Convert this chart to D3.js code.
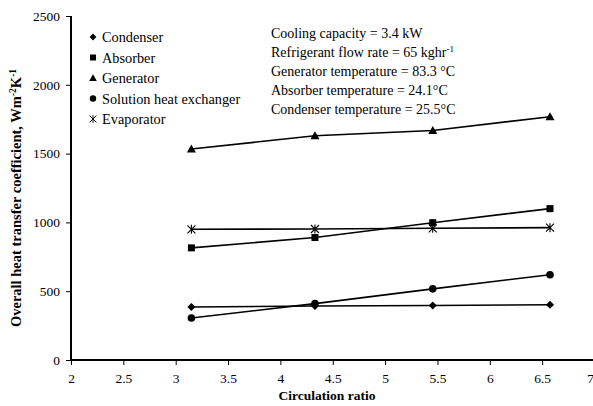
<!DOCTYPE html>
<html>
<head>
<meta charset="utf-8">
<script src="https://cdn.jsdelivr.net/npm/d3@7"></script>
<style>
  html, body { margin: 0; padding: 0; background: #fff; }
  svg { display: block; font-family: "Liberation Serif", "Times New Roman", serif; }
</style>
</head>
<body>
<svg id="chart" width="593" height="406"></svg>
<script>
// Circulation ratio (x) and overall heat transfer coefficient (W m^-2 K^-1) per component
const ratios = [3.15, 4.33, 5.455, 6.575];
const condenser = [385, 392, 396, 401];
const absorber = [815, 890, 998, 1100];
const generator = [1533, 1630, 1668, 1768];
const solutionHX = [305, 410, 517, 620];
const evaporator = [950, 952, 957, 962];

const xTicks = [2, 2.5, 3, 3.5, 4, 4.5, 5, 5.5, 6, 6.5, 7];
const yTicks = [0, 500, 1000, 1500, 2000, 2500];

const seriesNames = ["Condenser", "Absorber", "Generator", "Solution heat exchanger", "Evaporator"];
const seriesValues = [condenser, absorber, generator, solutionHX, evaporator];
const seriesMarkers = ["diamond", "square", "triangle", "circle", "star"];

const notes = [
  {text: "Cooling capacity = 3.4 kW"},
  {text: "Refrigerant flow rate = 65 kghr", sup: "-1"},
  {text: "Generator temperature = 83.3 °C"},
  {text: "Absorber temperature = 24.1°C"},
  {text: "Condenser temperature = 25.5°C"}
];

const svg = d3.select("#chart");
const x = d3.scaleLinear().domain([2, 7]).range([71, 594.5]);
const y = d3.scaleLinear().domain([0, 2500]).range([360, 16]);

// Marker shapes
function marker(g, type) {
  const k = "#000";
  if (type === "diamond") {
    g.append("path").attr("d", "M0,-4L4,0L0,4L-4,0Z").attr("fill", k);
  } else if (type === "square") {
    g.append("rect").attr("x", -3.5).attr("y", -3.5).attr("width", 7).attr("height", 7).attr("fill", k);
  } else if (type === "triangle") {
    g.append("path").attr("d", "M0,-4.5L4.5,3.5L-4.5,3.5Z").attr("fill", k);
  } else if (type === "circle") {
    g.append("circle").attr("r", 3.8).attr("fill", k);
  } else if (type === "star") {
    g.append("path").attr("d", "M-4,-4L4,4M-4,4L4,-4M0,-4.5L0,4.5")
      .attr("stroke", k).attr("stroke-width", 1.1).attr("fill", "none");
  }
}

// Axes
const xAxis = d3.axisBottom(x).tickValues(xTicks).tickSize(5).tickPadding(8)
  .tickFormat(d3.format("~g"));
const gx = svg.append("g").attr("transform", "translate(0,360)").call(xAxis);
gx.select(".domain").attr("d", "M71,0H593").attr("stroke-width", 2);
// the last label sits against the right edge
gx.selectAll(".tick text").filter(d => d === 7).attr("text-anchor", "end").attr("dx", -1);

const yAxis = d3.axisLeft(y).tickValues(yTicks).tickSize(5).tickPadding(6)
  .tickFormat(d3.format("d"));
const gy = svg.append("g").attr("transform", "translate(71,0)").call(yAxis);
gy.select(".domain").attr("d", "M0,16V361").attr("stroke-width", 2);

svg.selectAll(".tick text").attr("font-family", "Liberation Serif").attr("font-size", 13.5).attr("fill", "#000");
svg.selectAll(".tick line").attr("stroke", "#000");

// Series lines and markers
const line = d3.line().x((d, i) => x(ratios[i])).y(d => y(d));
seriesValues.forEach((vals, s) => {
  svg.append("path").datum(vals).attr("d", line)
    .attr("fill", "none").attr("stroke", "#000").attr("stroke-width", 1.6);
  vals.forEach((v, i) => {
    const g = svg.append("g").attr("transform", `translate(${x(ratios[i])},${y(v)})`);
    marker(g, seriesMarkers[s]);
  });
});

// Legend
seriesNames.forEach((name, i) => {
  const cy = 37 + i * 20.5;
  const g = svg.append("g").attr("transform", `translate(93,${cy})`);
  const m = g.append("g").attr("transform", "scale(0.85)");
  marker(m, seriesMarkers[i]);
  svg.append("text").attr("x", 102).attr("y", cy + 5)
    .attr("font-size", 14.3).text(name);
});

// Operating conditions
notes.forEach((n, i) => {
  const t = svg.append("text").attr("x", 271).attr("y", 38 + i * 19)
    .attr("font-size", 14).text(n.text);
  if (n.sup) t.append("tspan").attr("dy", -5).attr("font-size", 9).text(n.sup);
});

// Axis titles
svg.append("text").attr("x", 327).attr("y", 400).attr("text-anchor", "middle")
  .attr("font-weight", "bold").attr("font-size", 13.5).text("Circulation ratio");

const yt = svg.append("text").attr("transform", "translate(21,198) rotate(-90)")
  .attr("text-anchor", "middle").attr("font-weight", "bold").attr("font-size", 14.5);
yt.append("tspan").text("Overall heat transfer coefficient, Wm");
yt.append("tspan").attr("dy", -5).attr("font-size", 9.5).text("-2");
yt.append("tspan").attr("dy", 5).text("K");
yt.append("tspan").attr("dy", -5).attr("font-size", 9.5).text("-1");
</script>
</body>
</html>
